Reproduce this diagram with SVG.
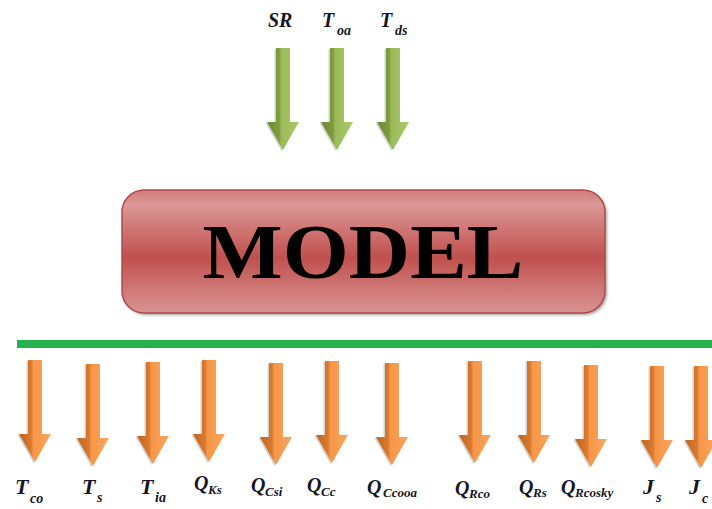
<svg xmlns="http://www.w3.org/2000/svg" xmlns:xlink="http://www.w3.org/1999/xlink" width="712" height="509" viewBox="0 0 712 509">
  <defs>
    <!-- block arrow pointing down, origin at top centre of the shaft -->
    <path id="arrow" d="M-7,0 H7 V74 H16 L0,102 L-16,74 H-7 Z"/>
    <linearGradient id="gGreen" x1="0" y1="0" x2="1" y2="0">
      <stop offset="0" stop-color="#6f8b36"/>
      <stop offset="0.38" stop-color="#7e9d40"/>
      <stop offset="0.45" stop-color="#9bbb59"/>
      <stop offset="1" stop-color="#a9c96a"/>
    </linearGradient>
    <linearGradient id="gOrange" x1="0" y1="0" x2="1" y2="0">
      <stop offset="0" stop-color="#c0651f"/>
      <stop offset="0.38" stop-color="#d97a30"/>
      <stop offset="0.45" stop-color="#f79646"/>
      <stop offset="1" stop-color="#f9a560"/>
    </linearGradient>
    <linearGradient id="gModel" x1="0" y1="0" x2="0" y2="1">
      <stop offset="0" stop-color="#d27d7b"/>
      <stop offset="0.12" stop-color="#db9796"/>
      <stop offset="0.35" stop-color="#cd716f"/>
      <stop offset="0.55" stop-color="#c0504d"/>
      <stop offset="0.8" stop-color="#cd7775"/>
      <stop offset="1" stop-color="#d89391"/>
    </linearGradient>
    <filter id="shadow" x="-5%" y="-10%" width="110%" height="130%">
      <feGaussianBlur stdDeviation="1.5"/>
    </filter>
    <style>
      .green { fill: url(#gGreen); }
      .orange { fill: url(#gOrange); }
      .edge { fill: #000; opacity: 0.18; }
      .lbl { font-family: "Liberation Serif", "DejaVu Serif", serif; font-style: italic; font-weight: bold; fill: #151525; }
      .big { font-size: 22px; }
      .q { font-size: 20px; }
      .sub { font-size: 14px; }
      .qs { font-size: 13px; }
      .top { font-size: 20px; }
    </style>
  </defs>

  <!-- inputs -->
  <g id="inputs">
    <g id="in-sr" transform="translate(283,48)">
      <use xlink:href="#arrow" class="edge" transform="translate(-1.5,1)"/>
      <use xlink:href="#arrow" class="green"/>
    </g>
    <g id="in-toa" transform="translate(337,48)">
      <use xlink:href="#arrow" class="edge" transform="translate(-1.5,1)"/>
      <use xlink:href="#arrow" class="green"/>
    </g>
    <g id="in-tds" transform="translate(393,48)">
      <use xlink:href="#arrow" class="edge" transform="translate(-1.5,1)"/>
      <use xlink:href="#arrow" class="green"/>
    </g>
    <text class="lbl top" x="268" y="27">SR</text>
    <text class="lbl top" x="322" y="27">T</text><text class="lbl sub" x="337" y="35">oa</text>
    <text class="lbl top" x="380" y="27">T</text><text class="lbl sub" x="395" y="35">ds</text>
  </g>

  <!-- model block -->
  <g id="model">
    <rect x="124" y="192" width="483" height="123" rx="22" fill="#555" opacity="0.55" filter="url(#shadow)"/>
    <rect x="122" y="190" width="483" height="123" rx="22" fill="url(#gModel)" stroke="#b14a47" stroke-width="1.5"/>
    <text x="363" y="278" text-anchor="middle" font-family="Liberation Serif, DejaVu Serif, serif" font-weight="bold" font-size="78" textLength="321" lengthAdjust="spacingAndGlyphs" fill="#000">MODEL</text>
  </g>

  <!-- output bar -->
  <g id="connectors">
    <rect x="17" y="340" width="695" height="8" fill="#22b14c"/>
  </g>

  <!-- outputs -->
  <g id="outputs">
    <g id="out-tco" transform="translate(35,360)"><use xlink:href="#arrow" class="edge" transform="translate(-1.5,1)"/><use xlink:href="#arrow" class="orange"/></g>
    <g id="out-ts" transform="translate(93,364)"><use xlink:href="#arrow" class="edge" transform="translate(-1.5,1)"/><use xlink:href="#arrow" class="orange"/></g>
    <g id="out-tia" transform="translate(153,362)"><use xlink:href="#arrow" class="edge" transform="translate(-1.5,1)"/><use xlink:href="#arrow" class="orange"/></g>
    <g id="out-qks" transform="translate(209,360)"><use xlink:href="#arrow" class="edge" transform="translate(-1.5,1)"/><use xlink:href="#arrow" class="orange"/></g>
    <g id="out-qcsi" transform="translate(276,363)"><use xlink:href="#arrow" class="edge" transform="translate(-1.5,1)"/><use xlink:href="#arrow" class="orange"/></g>
    <g id="out-qcc" transform="translate(332,361)"><use xlink:href="#arrow" class="edge" transform="translate(-1.5,1)"/><use xlink:href="#arrow" class="orange"/></g>
    <g id="out-qccooa" transform="translate(392,363)"><use xlink:href="#arrow" class="edge" transform="translate(-1.5,1)"/><use xlink:href="#arrow" class="orange"/></g>
    <g id="out-qrco" transform="translate(475,361)"><use xlink:href="#arrow" class="edge" transform="translate(-1.5,1)"/><use xlink:href="#arrow" class="orange"/></g>
    <g id="out-qrs" transform="translate(534,361)"><use xlink:href="#arrow" class="edge" transform="translate(-1.5,1)"/><use xlink:href="#arrow" class="orange"/></g>
    <g id="out-qrcosky" transform="translate(591,365)"><use xlink:href="#arrow" class="edge" transform="translate(-1.5,1)"/><use xlink:href="#arrow" class="orange"/></g>
    <g id="out-js" transform="translate(657,366)"><use xlink:href="#arrow" class="edge" transform="translate(-1.5,1)"/><use xlink:href="#arrow" class="orange"/></g>
    <g id="out-jc" transform="translate(701,366)"><use xlink:href="#arrow" class="edge" transform="translate(-1.5,1)"/><use xlink:href="#arrow" class="orange"/></g>

    <text class="lbl big" x="15" y="494">T</text><text class="lbl sub" x="30" y="503">co</text>
    <text class="lbl big" x="82" y="494">T</text><text class="lbl sub" x="97" y="502">s</text>
    <text class="lbl big" x="140" y="494">T</text><text class="lbl sub" x="155" y="502">ia</text>
    <text class="lbl q" x="194" y="490">Q</text><text class="lbl qs" x="208" y="494">Ks</text>
    <text class="lbl q" x="251" y="492">Q</text><text class="lbl qs" x="265" y="496">Csi</text>
    <text class="lbl q" x="307" y="492">Q</text><text class="lbl qs" x="321" y="496">Cc</text>
    <text class="lbl q" x="367" y="494" font-size="23">Q</text><text class="lbl qs" x="383" y="497">Ccooa</text>
    <text class="lbl q" x="455" y="495">Q</text><text class="lbl qs" x="469" y="498">Rco</text>
    <text class="lbl q" x="519" y="494">Q</text><text class="lbl qs" x="533" y="497">Rs</text>
    <text class="lbl q" x="561" y="494">Q</text><text class="lbl qs" x="575" y="497">Rcosky</text>
    <text class="lbl big" x="643" y="494">J</text><text class="lbl sub" x="656" y="502">s</text>
    <text class="lbl big" x="689" y="494">J</text><text class="lbl sub" x="702" y="503">c</text>
  </g>
</svg>
